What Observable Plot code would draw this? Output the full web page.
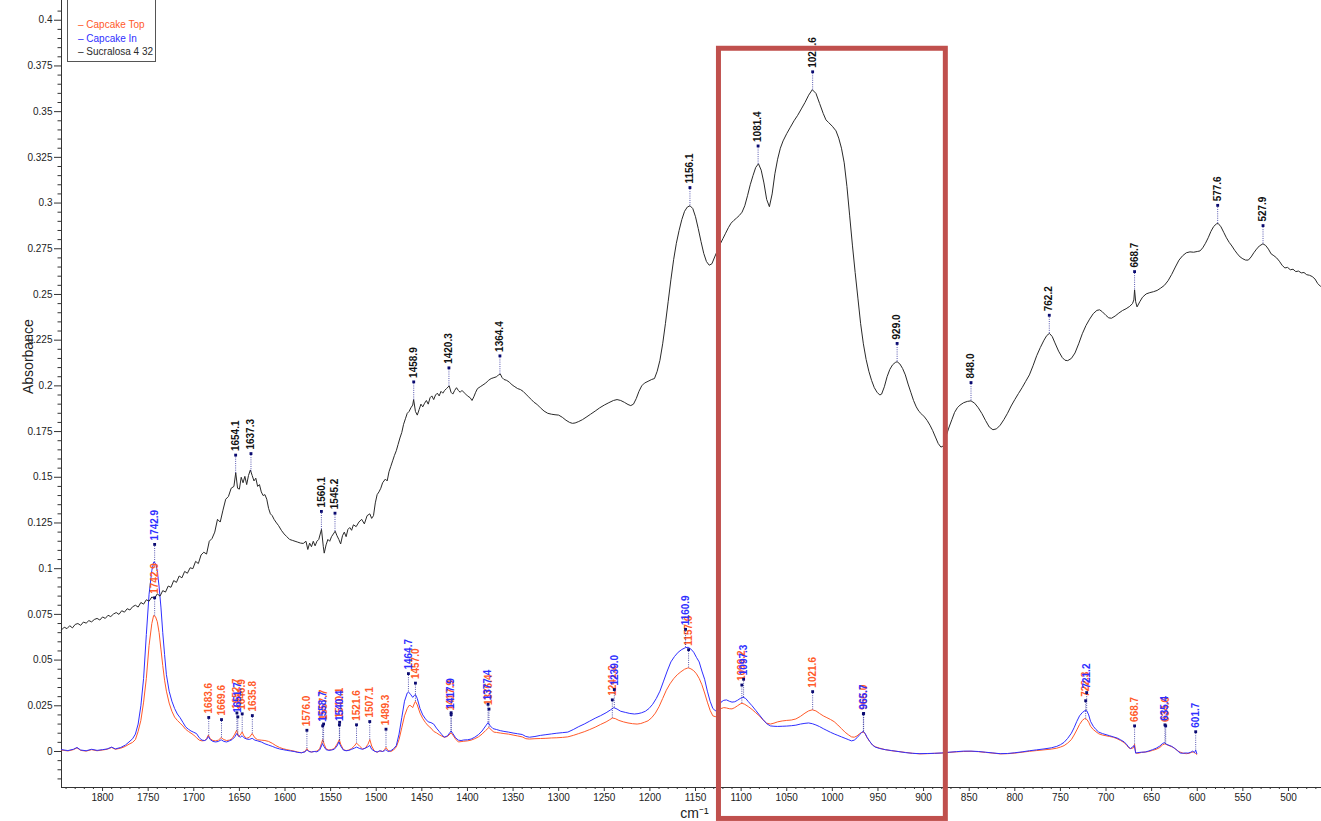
<!DOCTYPE html>
<html>
<head>
<meta charset="utf-8">
<script src="https://cdn.jsdelivr.net/npm/d3@7"></script>
<script src="https://cdn.jsdelivr.net/npm/@observablehq/plot@0.6"></script>
<style>
  html, body { margin: 0; padding: 0; background: #fff; overflow: hidden; }
  #wrap { position: relative; width: 1321px; height: 821px; }
  #legend {
    position: absolute; left: 67px; top: -1px; width: 89px; height: 63px;
    border: 1px solid #555; background: #fff; box-sizing: border-box;
    font: 10px "Liberation Sans", Arial, sans-serif; padding: 18px 0 0 10px;
  }
  #legend div { height: 13.5px; line-height: 13.5px; white-space: nowrap; }
</style>
</head>
<body>
<div id="wrap">
  <div id="chart"></div>
  <div id="legend"></div>
</div>
<script>
// FTIR absorbance spectra, wavenumber (cm-1) vs absorbance
const seriesNames = ["Capcake Top", "Capcake In", "Sucralosa 4 32"];
const seriesColors = ["#ff5a2a", "#2f2fff", "#2a2a2a"];

const capcakeTop = [
  [1845,0.0008],[1838,0.0003],[1832,0.0010],[1828,0.0020],[1824,0.0006],[1818,0.0002],[1812,0.0010],[1806,0.0004],
  [1800,0.0008],[1795,0.0012],[1790,0.0022],[1786,0.0012],[1780,0.0018],[1775,0.0028],[1771,0.0040],[1767,0.0050],
  [1764,0.0065],[1761,0.0110],[1758,0.0170],[1755,0.0270],[1752,0.0400],[1749,0.0580],[1746,0.0700],[1744,0.0744],
  [1742,0.0738],[1740,0.0710],[1738,0.0650],[1736,0.0560],[1734,0.0470],[1732,0.0390],[1730,0.0330],[1727,0.0265],
  [1724,0.0220],[1721,0.0188],[1718,0.0170],[1715,0.0155],[1712,0.0140],[1709,0.0122],[1706,0.0110],[1703,0.0100],
  [1700,0.0090],[1697,0.0075],[1694,0.0062],[1691,0.0058],[1688,0.0060],[1686,0.0070],[1684,0.0090],[1682,0.0070],
  [1679,0.0060],[1676,0.0058],[1673,0.0062],[1670,0.0076],[1667,0.0065],[1664,0.0060],[1661,0.0062],[1658,0.0070],
  [1655,0.0095],[1653,0.0116],[1651,0.0082],[1649,0.0090],[1647,0.0107],[1645,0.0085],[1642,0.0072],[1639,0.0078],
  [1636,0.0098],[1633,0.0075],[1630,0.0064],[1626,0.0062],[1622,0.0060],[1618,0.0055],[1614,0.0045],[1610,0.0032],
  [1606,0.0022],[1602,0.0015],[1598,0.0010],[1594,0.0006],[1590,0.0002],[1586,-0.0003],[1582,-0.0007],[1578,0.0000],
  [1576,0.0016],[1574,0.0002],[1571,-0.0003],[1568,0.0000],[1565,0.0002],[1562,0.0015],[1560,0.0045],[1558.7,0.0065],
  [1557,0.0040],[1555,0.0015],[1552,0.0008],[1549,0.0010],[1546,0.0016],[1543,0.0040],[1540.4,0.0065],[1539,0.0040],
  [1536,0.0010],[1533,0.0005],[1530,0.0008],[1527,0.0016],[1524,0.0030],[1521.6,0.0046],[1518,0.0028],[1515,0.0014],
  [1512,0.0018],[1509,0.0040],[1507,0.0065],[1505,0.0030],[1502,0.0002],[1499,-0.0004],[1496,0.0003],[1493,0.0000],
  [1491,0.0010],[1489.3,0.0022],[1487,0.0005],[1484,0.0000],[1481,0.0008],[1478,0.0025],[1475,0.0065],[1472,0.0130],
  [1469,0.0195],[1466,0.0235],[1464,0.0252],[1462,0.0250],[1460,0.0240],[1458,0.0265],[1457,0.0274],[1455,0.0255],
  [1452,0.0210],[1449,0.0180],[1446,0.0158],[1443,0.0140],[1440,0.0128],[1437,0.0110],[1434,0.0102],[1431,0.0092],
  [1428,0.0084],[1425.5,0.0078],[1422,0.0082],[1419,0.0096],[1417.9,0.0102],[1416,0.0090],[1413,0.0068],[1410,0.0052],
  [1407,0.0054],[1404,0.0056],[1400,0.0058],[1396,0.0062],[1392,0.0070],[1388,0.0080],[1384,0.0095],[1380,0.0115],
  [1376.4,0.0132],[1374,0.0118],[1371,0.0106],[1368,0.0104],[1364,0.0101],[1360,0.0098],[1355,0.0095],[1350,0.0090],
  [1345,0.0085],[1340,0.0080],[1336,0.0070],[1332,0.0068],[1326,0.0070],[1320,0.0071],[1314,0.0072],[1308,0.0074],
  [1302,0.0075],[1296,0.0077],[1290,0.0080],[1284,0.0088],[1278,0.0098],[1272,0.0108],[1266,0.0120],[1260,0.0133],
  [1254,0.0148],[1248,0.0162],[1244,0.0174],[1241,0.0183],[1238,0.0180],[1234,0.0170],[1229,0.0162],[1224,0.0156],
  [1219,0.0152],[1214,0.0150],[1210,0.0153],[1206,0.0160],[1202,0.0168],[1198,0.0185],[1194,0.0210],[1190,0.0245],
  [1186,0.0290],[1182,0.0335],[1178,0.0370],[1174,0.0398],[1170,0.0420],[1166,0.0436],[1162,0.0450],[1159,0.0456],
  [1157.6,0.0457],[1155,0.0452],[1152,0.0442],[1149,0.0425],[1146,0.0400],[1143,0.0365],[1140,0.0320],[1137,0.0270],
  [1134,0.0225],[1131,0.0195],[1128,0.0190],[1125,0.0210],[1122,0.0235],[1119,0.0240],[1116,0.0238],[1113,0.0234],
  [1110,0.0233],[1107,0.0240],[1104,0.0250],[1101,0.0260],[1099,0.0264],[1096,0.0258],[1092,0.0245],[1088,0.0230],
  [1084,0.0212],[1080,0.0195],[1076,0.0172],[1072,0.0155],[1068,0.0150],[1064,0.0155],[1060,0.0162],[1055,0.0167],
  [1050,0.0170],[1045,0.0172],[1040,0.0178],[1035,0.0192],[1030,0.0210],[1026,0.0222],[1022,0.0228],[1018,0.0222],
  [1014,0.0208],[1010,0.0195],[1006,0.0185],[1002,0.0175],[998,0.0163],[994,0.0145],[990,0.0125],[986,0.0105],
  [982,0.0090],[979,0.0080],[976,0.0078],[973,0.0085],[970,0.0098],[968,0.0104],[966,0.0106],[964,0.0096],
  [962,0.0076],[959,0.0054],[956,0.0036],[953,0.0026],[948,0.0018],[942,0.0010],[935,0.0004],[928,0.0000],
  [920,-0.0005],[912,-0.0010],[904,-0.0013],[896,-0.0012],[888,-0.0010],[880,-0.0009],[872,-0.0005],[864,-0.0002],
  [856,0.0000],[848,0.0001],[840,-0.0001],[832,-0.0005],[824,-0.0009],[816,-0.0013],[808,-0.0012],[800,-0.0009],
  [792,-0.0004],[784,0.0001],[776,0.0005],[768,0.0009],[760,0.0013],[754,0.0018],[750,0.0024],[746,0.0032],
  [742,0.0046],[738,0.0065],[735,0.0090],[732,0.0118],[729,0.0148],[726,0.0170],[723.5,0.0180],[721,0.0175],
  [719,0.0160],[717,0.0138],[714,0.0120],[711,0.0108],[708,0.0097],[704,0.0090],[700,0.0086],[696,0.0082],
  [692,0.0078],[688,0.0070],[684,0.0060],[680,0.0048],[677,0.0032],[675,0.0020],[673,0.0016],[670,0.0020],
  [668.7,0.0040],[667.5,-0.0008],[665,-0.0010],[661,-0.0005],[657,-0.0003],[653,0.0000],[649,0.0006],[645,0.0012],
  [641,0.0022],[638,0.0036],[635.4,0.0042],[633,0.0036],[630,0.0030],[627,0.0024],[624,0.0014],[621,0.0002],
  [618,-0.0005],[615,-0.0010],[612,-0.0012],[609,-0.0010],[606,-0.0004],[604,-0.0003],[602,-0.0010],[600.5,-0.0016]
];

const capcakeIn = [
  [1845,0.0010],[1838,0.0005],[1832,0.0012],[1828,0.0022],[1824,0.0008],[1818,0.0004],[1812,0.0012],[1806,0.0006],
  [1800,0.0010],[1795,0.0014],[1790,0.0024],[1786,0.0014],[1780,0.0022],[1775,0.0035],[1771,0.0052],[1767,0.0070],
  [1764,0.0095],[1761,0.0150],[1758,0.0250],[1755,0.0400],[1752,0.0640],[1749,0.0860],[1746,0.0990],[1744,0.1036],
  [1742,0.1030],[1740,0.0990],[1738,0.0900],[1736,0.0790],[1734,0.0650],[1732,0.0530],[1730,0.0420],[1727,0.0330],
  [1724,0.0275],[1721,0.0235],[1718,0.0205],[1715,0.0185],[1712,0.0160],[1709,0.0135],[1706,0.0122],[1703,0.0112],
  [1700,0.0105],[1697,0.0098],[1694,0.0075],[1691,0.0062],[1688,0.0060],[1686,0.0065],[1684,0.0082],[1682,0.0065],
  [1679,0.0055],[1676,0.0052],[1673,0.0055],[1670,0.0064],[1667,0.0055],[1664,0.0052],[1661,0.0058],[1658,0.0065],
  [1655,0.0080],[1653,0.0098],[1651,0.0085],[1649,0.0078],[1647,0.0086],[1645,0.0075],[1642,0.0068],[1639,0.0066],
  [1636,0.0072],[1633,0.0062],[1630,0.0058],[1626,0.0052],[1622,0.0042],[1618,0.0035],[1614,0.0028],[1610,0.0020],
  [1606,0.0014],[1602,0.0010],[1598,0.0006],[1594,0.0003],[1590,0.0000],[1586,-0.0005],[1582,-0.0007],[1578,-0.0002],
  [1576,0.0010],[1574,0.0000],[1571,-0.0003],[1568,0.0000],[1565,-0.0002],[1562,0.0008],[1560,0.0030],[1559,0.0043],
  [1557,0.0025],[1555,0.0010],[1552,0.0006],[1549,0.0008],[1546,0.0012],[1543,0.0030],[1541,0.0052],[1539,0.0030],
  [1536,0.0008],[1533,0.0004],[1530,0.0006],[1527,0.0012],[1524,0.0018],[1521.6,0.0024],[1518,0.0016],[1515,0.0012],
  [1512,0.0018],[1509,0.0026],[1507,0.0033],[1505,0.0012],[1502,0.0002],[1499,-0.0003],[1496,0.0004],[1493,0.0000],
  [1491,0.0004],[1489.5,0.0010],[1487,0.0000],[1484,0.0004],[1481,0.0015],[1478,0.0032],[1475,0.0095],[1472,0.0185],
  [1469,0.0275],[1466,0.0320],[1464.7,0.0326],[1462,0.0310],[1460,0.0296],[1458,0.0308],[1457,0.0312],[1455,0.0290],
  [1452,0.0235],[1449,0.0200],[1446,0.0178],[1443,0.0162],[1440,0.0158],[1437,0.0150],[1434,0.0128],[1431,0.0110],
  [1428,0.0092],[1425.5,0.0078],[1422,0.0085],[1419,0.0105],[1417.9,0.0112],[1416,0.0098],[1413,0.0075],[1410,0.0062],
  [1407,0.0060],[1404,0.0063],[1400,0.0064],[1396,0.0068],[1392,0.0078],[1388,0.0092],[1384,0.0112],[1380,0.0140],
  [1377.4,0.0158],[1375,0.0140],[1372,0.0125],[1368,0.0120],[1364,0.0114],[1360,0.0110],[1355,0.0106],[1350,0.0101],
  [1345,0.0097],[1340,0.0093],[1336,0.0082],[1332,0.0078],[1326,0.0082],[1320,0.0088],[1314,0.0092],[1308,0.0096],
  [1302,0.0100],[1296,0.0103],[1290,0.0106],[1284,0.0120],[1278,0.0136],[1272,0.0150],[1266,0.0166],[1260,0.0182],
  [1254,0.0196],[1248,0.0212],[1243,0.0228],[1239.5,0.0240],[1236,0.0232],[1232,0.0220],[1227,0.0214],[1222,0.0208],
  [1217,0.0205],[1213,0.0207],[1209,0.0212],[1205,0.0220],[1201,0.0235],[1197,0.0258],[1193,0.0290],[1189,0.0330],
  [1185,0.0385],[1181,0.0440],[1177,0.0490],[1173,0.0520],[1169,0.0543],[1165,0.0558],[1161,0.0568],[1158,0.0570],
  [1155,0.0560],[1152,0.0543],[1149,0.0515],[1146,0.0490],[1143,0.0440],[1140,0.0395],[1137,0.0330],[1134,0.0275],
  [1131,0.0235],[1128,0.0222],[1125,0.0245],[1122,0.0270],[1119,0.0280],[1116,0.0282],[1113,0.0275],[1110,0.0270],
  [1107,0.0272],[1104,0.0280],[1101,0.0290],[1098,0.0297],[1095,0.0290],[1092,0.0272],[1088,0.0250],[1084,0.0225],
  [1080,0.0200],[1076,0.0175],[1072,0.0152],[1068,0.0140],[1064,0.0138],[1060,0.0137],[1055,0.0138],[1050,0.0139],
  [1045,0.0141],[1040,0.0144],[1035,0.0150],[1030,0.0154],[1026,0.0156],[1022,0.0152],[1018,0.0145],[1014,0.0136],
  [1010,0.0125],[1006,0.0115],[1002,0.0105],[998,0.0096],[994,0.0088],[990,0.0080],[986,0.0072],[982,0.0064],
  [979,0.0058],[976,0.0062],[973,0.0075],[970,0.0092],[968,0.0104],[966,0.0110],[964,0.0098],[962,0.0078],
  [959,0.0055],[956,0.0035],[953,0.0024],[948,0.0016],[942,0.0010],[935,0.0005],[928,0.0000],[920,-0.0006],
  [912,-0.0010],[904,-0.0012],[896,-0.0011],[888,-0.0010],[880,-0.0008],[872,-0.0004],[864,-0.0001],[856,0.0002],
  [848,0.0002],[840,0.0000],[832,-0.0004],[824,-0.0008],[816,-0.0012],[808,-0.0011],[800,-0.0007],[792,-0.0002],
  [784,0.0004],[776,0.0009],[768,0.0014],[760,0.0020],[754,0.0028],[750,0.0037],[746,0.0050],[742,0.0072],
  [738,0.0100],[735,0.0130],[732,0.0165],[729,0.0195],[726,0.0213],[723,0.0224],[721,0.0222],[719,0.0200],
  [717,0.0165],[714,0.0138],[711,0.0120],[708,0.0106],[704,0.0098],[700,0.0092],[696,0.0086],[692,0.0080],
  [688,0.0074],[684,0.0064],[680,0.0052],[677,0.0036],[675,0.0022],[673,0.0016],[671,0.0025],[669,0.0033],
  [667.5,-0.0009],[665,-0.0006],[661,-0.0004],[657,-0.0003],[653,0.0003],[649,0.0010],[645,0.0018],[641,0.0030],
  [638,0.0044],[636,0.0048],[634,0.0040],[631,0.0034],[628,0.0028],[625,0.0018],[622,0.0006],[619,-0.0008],
  [616,-0.0010],[613,-0.0008],[610,-0.0009],[607,-0.0004],[605,0.0002],[603,-0.0006],[601.7,0.0008],[600.5,-0.0012]
];

const sucralosa = [
  [1845,0.0665],[1842,0.0680],[1839,0.0672],[1836,0.0688],[1833,0.0676],[1830,0.0695],[1827,0.0700],[1824,0.0690],
  [1821,0.0708],[1818,0.0702],[1815,0.0716],[1812,0.0709],[1809,0.0722],[1806,0.0728],[1803,0.0719],[1800,0.0736],
  [1797,0.0728],[1794,0.0745],[1791,0.0738],[1788,0.0752],[1785,0.0760],[1782,0.0750],[1779,0.0770],[1776,0.0762],
  [1773,0.0781],[1770,0.0774],[1767,0.0792],[1764,0.0800],[1761,0.0790],[1758,0.0815],[1755,0.0806],[1752,0.0830],
  [1749,0.0822],[1746,0.0845],[1743,0.0838],[1740,0.0862],[1737,0.0850],[1734,0.0880],[1731,0.0872],[1728,0.0905],
  [1725,0.0898],[1722,0.0935],[1719,0.0925],[1716,0.0960],[1713,0.0950],[1710,0.0985],[1707,0.0975],[1704,0.1005],
  [1701,0.1000],[1698,0.1040],[1695,0.1028],[1692,0.1075],[1689,0.1090],[1686,0.1080],[1683,0.1150],[1680,0.1165],
  [1677,0.1200],[1674,0.1270],[1671,0.1255],[1668,0.1320],[1665,0.1380],[1662,0.1395],[1659,0.1440],[1656,0.1450],
  [1654,0.1525],[1652,0.1440],[1650,0.1435],[1648,0.1500],[1646,0.1470],[1644,0.1505],[1642,0.1460],[1640,0.1510],
  [1638,0.1540],[1636,0.1510],[1634,0.1480],[1632,0.1495],[1630,0.1450],[1628,0.1460],[1626,0.1420],[1624,0.1400],
  [1622,0.1405],[1620,0.1380],[1618,0.1330],[1616,0.1300],[1614,0.1290],[1612,0.1270],[1610,0.1255],[1607,0.1235],
  [1604,0.1210],[1601,0.1190],[1598,0.1175],[1595,0.1160],[1592,0.1155],[1589,0.1150],[1586,0.1145],[1583,0.1140],
  [1580,0.1138],[1577,0.1150],[1575,0.1105],[1573,0.1140],[1571,0.1120],[1569,0.1150],[1567,0.1125],[1565,0.1150],
  [1563,0.1160],[1560,0.1215],[1558,0.1120],[1557,0.1085],[1555,0.1130],[1553,0.1160],[1551,0.1150],[1549,0.1175],
  [1547,0.1190],[1545,0.1205],[1543,0.1180],[1541,0.1160],[1539,0.1135],[1537,0.1180],[1535,0.1200],[1533,0.1175],
  [1531,0.1215],[1529,0.1225],[1527,0.1210],[1525,0.1240],[1522,0.1230],[1519,0.1255],[1516,0.1270],[1513,0.1245],
  [1510,0.1290],[1507,0.1300],[1505,0.1275],[1503,0.1290],[1501,0.1360],[1499,0.1405],[1497,0.1420],[1495,0.1440],
  [1493,0.1470],[1490,0.1490],[1488,0.1480],[1486,0.1530],[1484,0.1560],[1482,0.1590],[1480,0.1620],[1478,0.1645],
  [1476,0.1680],[1474,0.1715],[1472,0.1745],[1470,0.1790],[1468,0.1820],[1466,0.1850],[1464,0.1860],[1462,0.1880],
  [1460,0.1895],[1459,0.1925],[1457,0.1860],[1455,0.1840],[1453,0.1870],[1451,0.1900],[1449,0.1885],[1447,0.1905],
  [1445,0.1920],[1443,0.1900],[1441,0.1935],[1439,0.1945],[1437,0.1925],[1435,0.1950],[1433,0.1960],[1431,0.1945],
  [1429,0.1970],[1427,0.1960],[1425,0.1975],[1423,0.1985],[1420,0.2000],[1418,0.1965],[1416,0.1955],[1414,0.1975],
  [1412,0.1990],[1410,0.1975],[1408,0.1965],[1406,0.1975],[1403,0.1960],[1400,0.1945],[1397,0.1935],[1395,0.1920],
  [1393,0.1940],[1391,0.1965],[1389,0.1985],[1386,0.1995],[1383,0.2005],[1380,0.2015],[1377,0.2030],[1374,0.2040],
  [1371,0.2045],[1368,0.2050],[1366,0.2060],[1364,0.2065],[1362,0.2045],[1360,0.2035],[1357,0.2030],[1354,0.2020],
  [1351,0.2005],[1348,0.1995],[1345,0.1985],[1342,0.1980],[1339,0.1970],[1336,0.1955],[1333,0.1940],[1330,0.1925],
  [1327,0.1910],[1324,0.1900],[1320,0.1880],[1316,0.1862],[1312,0.1850],[1308,0.1845],[1304,0.1842],[1300,0.1840],
  [1296,0.1828],[1292,0.1812],[1288,0.1800],[1285,0.1795],[1282,0.1797],[1278,0.1805],[1274,0.1815],[1270,0.1828],
  [1265,0.1845],[1260,0.1862],[1255,0.1880],[1250,0.1895],[1245,0.1908],[1240,0.1920],[1236,0.1925],[1232,0.1920],
  [1228,0.1910],[1224,0.1898],[1221,0.1892],[1218,0.1900],[1215,0.1930],[1212,0.1970],[1209,0.2000],[1206,0.2015],
  [1202,0.2025],[1198,0.2035],[1195,0.2040],[1192,0.2080],[1189,0.2140],[1186,0.2230],[1183,0.2340],[1180,0.2460],
  [1177,0.2580],[1174,0.2690],[1171,0.2780],[1168,0.2850],[1165,0.2910],[1162,0.2955],[1159,0.2978],[1156,0.2985],
  [1153,0.2970],[1150,0.2925],[1147,0.2860],[1144,0.2790],[1141,0.2725],[1138,0.2680],[1135,0.2660],[1132,0.2668],
  [1129,0.2705],[1126,0.2740],[1123,0.2775],[1120,0.2805],[1117,0.2835],[1114,0.2865],[1111,0.2890],[1108,0.2905],
  [1105,0.2918],[1102,0.2932],[1099,0.2950],[1096,0.2985],[1093,0.3040],[1090,0.3100],[1087,0.3150],[1084,0.3195],
  [1081,0.3215],[1078,0.3180],[1075,0.3110],[1072,0.3020],[1069,0.2980],[1066,0.3050],[1063,0.3160],[1060,0.3240],
  [1057,0.3300],[1054,0.3340],[1050,0.3380],[1046,0.3415],[1042,0.3450],[1038,0.3480],[1034,0.3515],[1030,0.3550],
  [1026,0.3590],[1022,0.3620],[1018,0.3600],[1014,0.3545],[1010,0.3490],[1007,0.3455],[1004,0.3440],[1000,0.3420],
  [996,0.3395],[993,0.3355],[990,0.3300],[987,0.3220],[984,0.3090],[981,0.2930],[978,0.2770],[975,0.2620],
  [972,0.2480],[969,0.2340],[966,0.2230],[963,0.2145],[960,0.2080],[957,0.2030],[954,0.1990],[951,0.1965],
  [948,0.1950],[946,0.1955],[943,0.1995],[940,0.2050],[937,0.2090],[934,0.2115],[931,0.2128],[929,0.2132],
  [926,0.2120],[923,0.2095],[920,0.2060],[917,0.2010],[914,0.1965],[911,0.1920],[908,0.1885],[905,0.1860],
  [902,0.1845],[899,0.1830],[896,0.1810],[893,0.1785],[890,0.1755],[887,0.1720],[884,0.1685],[881,0.1665],
  [878,0.1672],[875,0.1730],[872,0.1775],[869,0.1815],[866,0.1855],[863,0.1880],[860,0.1895],[856,0.1908],
  [852,0.1915],[848,0.1918],[844,0.1905],[840,0.1880],[836,0.1848],[832,0.1810],[828,0.1775],[824,0.1760],
  [820,0.1765],[816,0.1785],[812,0.1815],[808,0.1850],[804,0.1890],[800,0.1925],[796,0.1958],[792,0.1990],
  [788,0.2025],[784,0.2060],[780,0.2110],[776,0.2165],[772,0.2210],[768,0.2250],[765,0.2275],[762,0.2287],
  [759,0.2270],[756,0.2235],[752,0.2190],[748,0.2155],[745,0.2140],[742,0.2138],[738,0.2150],[734,0.2180],
  [730,0.2230],[726,0.2285],[722,0.2330],[718,0.2365],[714,0.2395],[710,0.2413],[707,0.2416],[704,0.2405],
  [700,0.2385],[697,0.2372],[694,0.2370],[690,0.2382],[686,0.2398],[682,0.2412],[678,0.2422],[674,0.2435],
  [671,0.2450],[669.5,0.2470],[668.7,0.2525],[667.5,0.2460],[666,0.2432],[663,0.2460],[660,0.2485],[656,0.2503],
  [652,0.2510],[648,0.2515],[644,0.2522],[640,0.2535],[636,0.2550],[632,0.2575],[628,0.2610],[624,0.2650],
  [620,0.2688],[616,0.2712],[612,0.2728],[608,0.2733],[604,0.2731],[600,0.2735],[597,0.2738],[594,0.2755],
  [591,0.2780],[588,0.2810],[585,0.2845],[582,0.2872],[579,0.2886],[577,0.2888],[574,0.2870],[571,0.2840],
  [568,0.2810],[565,0.2785],[562,0.2765],[559,0.2742],[556,0.2722],[553,0.2705],[550,0.2695],[547,0.2688],
  [544,0.2688],[541,0.2705],[538,0.2728],[535,0.2748],[532,0.2765],[528,0.2777],[525,0.2768],[522,0.2748],
  [519,0.2722],[516,0.2712],[513,0.2700],[510,0.2682],[507,0.2660],[504,0.2645],[501,0.2648],[498,0.2635],
  [495,0.2638],[492,0.2625],[489,0.2628],[486,0.2618],[483,0.2620],[480,0.2608],[477,0.2605],[474,0.2598],
  [471,0.2585],[468,0.2560],[465,0.2545],[463.8,0.2540]
];

// Picked peak positions (cm-1) per spectrum
const topPeaks = [1742.9, 1683.6, 1669.6, 1652.7, 1646.9, 1635.8, 1576.0, 1557.7, 1540.1, 1521.6, 1507.1, 1489.3,
  1457.0, 1417.9, 1376.4, 1241.2, 1157.6, 1099.2, 1021.6, 966.0, 722.3, 668.7, 634.6];
const inPeaks = [1742.9, 1651.7, 1558.7, 1540.4, 1464.7, 1417.9, 1377.4, 1239.0, 1160.9, 1097.3, 965.7, 721.2,
  635.4, 601.7];
const sucralosaPeaks = [1654.1, 1637.3, 1560.1, 1545.2, 1458.9, 1420.3, 1364.4, 1156.1, 1081.4, 1021.6, 929.0,
  848.0, 762.2, 668.7, 577.6, 527.9];

// Highlighted band (cm-1) and its vertical extent (absorbance)
const highlightBand = [1124.3, 875.6];
const highlightSpan = [-0.0369, 0.3844];

// Axis ranges and ticks
const xDomain = [1845, 463.8];
const yDomain = [-0.0197, 0.4108];
const xTicks = d3.range(1800, 499, -50);
const xMinorTicks = d3.range(1840, 465, -10).filter(v => v % 50 !== 0);
const yTicks = d3.range(0, 17).map(i => +(i * 0.025).toFixed(3));
const yMinorTicks = d3.range(-3, 82).map(i => +(i * 0.005).toFixed(3)).filter(v => Math.round(v * 1000) % 25 !== 0);

const markerOffset = 0.01;   // peak marker sits this far above the trace

function valueAt(series, wn) {
  for (let i = 0; i < series.length - 1; i++) {
    const [x0, y0] = series[i], [x1, y1] = series[i + 1];
    if (wn <= x0 && wn >= x1) return y0 + (y1 - y0) * (x0 - wn) / (x0 - x1);
  }
  return series[series.length - 1][1];
}

function peaksFor(series, peaks, color) {
  return peaks.map(wn => {
    const v = valueAt(series, wn);
    return {wn, v, m: v + markerOffset, label: wn.toFixed(1), color};
  });
}

const peakSets = [
  peaksFor(sucralosa, sucralosaPeaks, "#111"),
  peaksFor(capcakeTop, topPeaks, seriesColors[0]),
  peaksFor(capcakeIn, inPeaks, seriesColors[1])
];

const font = '"Liberation Sans", Arial, Helvetica, sans-serif';

const peakMarks = peakSets.flatMap(set => [
  Plot.ruleX(set, {x: "wn", y1: "v", y2: "m", stroke: "#2b2b9a", strokeWidth: 0.8, strokeDasharray: "1,1.2"}),
  Plot.dot(set, {x: "wn", y: "m", symbol: "square", r: 1.6, fill: "#0a0a70", stroke: "none"}),
  Plot.text(set, {x: "wn", y: "m", text: "label", rotate: -90, textAnchor: "start", lineAnchor: "middle",
    dy: -4, fill: "color", fontWeight: "bold", fontSize: 10})
]);

const noLabel = () => "";

const chart = Plot.plot({
  width: 1321,
  height: 821,
  marginLeft: 61,
  marginRight: 0,
  marginTop: 0,
  marginBottom: 34,
  style: {fontFamily: font, fontSize: "10px", color: "#222", background: "#fff"},
  x: {domain: xDomain},
  y: {domain: yDomain},
  marks: [
    // minor ticks (unlabelled)
    Plot.axisX({ticks: xMinorTicks, tickSize: 2, tickFormat: noLabel, label: null, stroke: "#333"}),
    Plot.axisY({ticks: yMinorTicks, tickSize: 3.5, tickFormat: noLabel, label: null, stroke: "#333"}),
    // major ticks with labels
    Plot.axisX({ticks: xTicks, tickSize: 4, tickPadding: 2, tickFormat: d => String(d), label: null, stroke: "#333", fontSize: 10}),
    Plot.axisY({ticks: yTicks, tickSize: 7, tickPadding: 2, tickFormat: d => String(+d.toFixed(3)), label: null, stroke: "#333", fontSize: 10}),
    // axis lines
    Plot.ruleX([xDomain[0]], {stroke: "#333", strokeWidth: 1}),
    Plot.ruleY([yDomain[0]], {stroke: "#333", strokeWidth: 1}),
    // axis titles
    Plot.text(["cm\u207B\u00B9"], {frameAnchor: "bottom", dy: 30, dx: 3, fontSize: 14, fill: "#222"}),
    Plot.text(["Absorbance"], {frameAnchor: "left", dx: -33, rotate: -90, fontSize: 14, fill: "#222"}),
    // spectra
    Plot.line(capcakeTop, {x: d => d[0], y: d => d[1], stroke: seriesColors[0], strokeWidth: 1}),
    Plot.line(capcakeIn, {x: d => d[0], y: d => d[1], stroke: seriesColors[1], strokeWidth: 1}),
    Plot.line(sucralosa, {x: d => d[0], y: d => d[1], stroke: seriesColors[2], strokeWidth: 1}),
    // peak picks
    ...peakMarks,
    // highlighted band
    Plot.rect([{x1: highlightBand[0], x2: highlightBand[1], y1: highlightSpan[0], y2: highlightSpan[1]}],
      {x1: "x1", x2: "x2", y1: "y1", y2: "y2", fill: "none", stroke: "#c0504d", strokeWidth: 5})
  ]
});

document.getElementById("chart").appendChild(chart);

// legend box
const legend = d3.select("#legend");
seriesNames.forEach((name, i) => {
  legend.append("div").style("color", seriesColors[i]).text("\u2013 " + name);
});
</script>
</body>
</html>
